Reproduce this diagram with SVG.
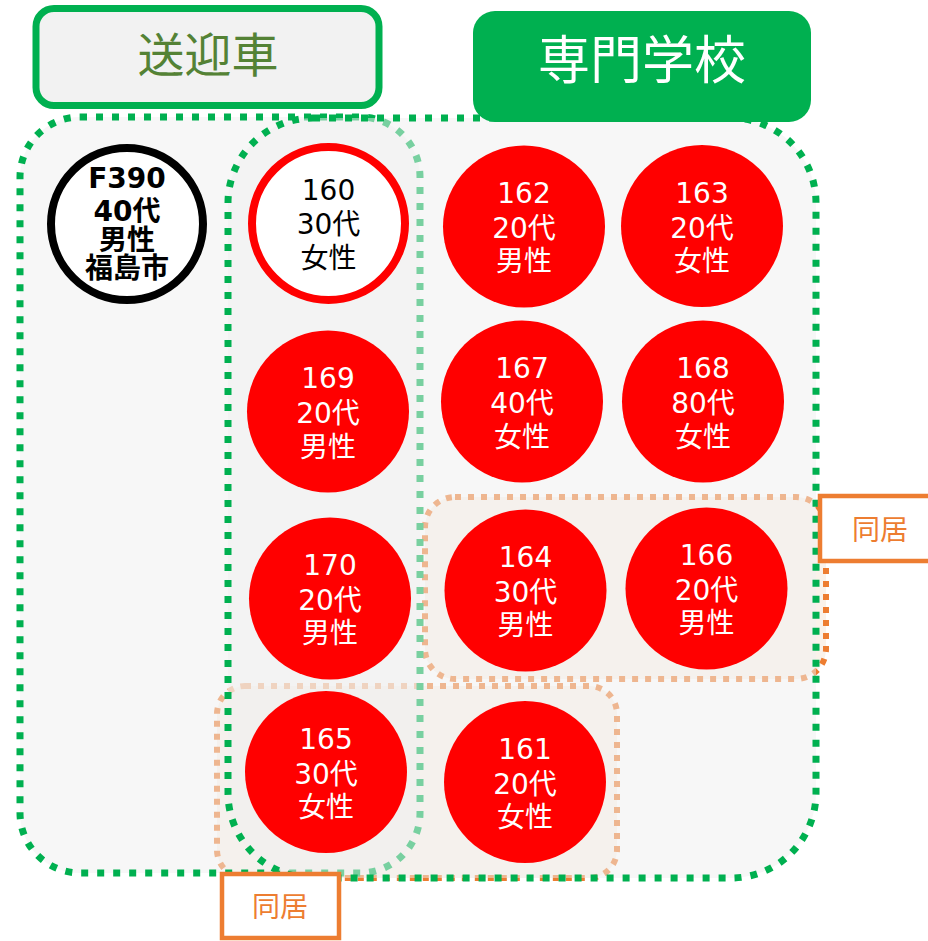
<svg xmlns="http://www.w3.org/2000/svg" width="928" height="941" viewBox="0 0 928 941">
<style>
.cont{fill:rgb(240,240,240);fill-opacity:0.5;stroke:#00B050;stroke-width:7;stroke-dasharray:7 9}
.coh{fill:#FAF2EA;stroke:#ED7D31;stroke-width:6;stroke-dasharray:6 7}
.lbl{fill:#FFFFFF;stroke:#ED7D31;stroke-width:4.5}
.lblt{font-family:"Noto Sans CJK JP","Noto Sans",sans-serif;font-size:28px;fill:#ED7D31;text-anchor:middle}
.red{fill:#FF0000}
.t{font-family:"DejaVu Sans","Noto Sans CJK JP",sans-serif;font-size:28px;text-anchor:middle;fill:#FFFFFF}
.k{fill:#000000}
</style>
<rect x="0" y="0" width="928" height="941" fill="#FFFFFF"/>

<g id="cohabit-right-area"><rect class="coh" x="425" y="497" width="401" height="182" rx="30"/></g>
<g id="cohabit-bottom-area"><rect class="coh" x="217" y="686" width="400" height="192" rx="28"/></g>

<g id="pickup-area"><rect class="cont" x="20" y="117" width="400" height="756" rx="60"/></g>
<g id="school-area"><rect class="cont" x="228" y="118" width="588" height="760" rx="85"/></g>

<g id="title-pickup">
<rect x="36" y="8.5" width="343" height="97" rx="18" fill="#F2F2F2" stroke="#00B050" stroke-width="7"/>
<text x="208" y="72" font-family="'Noto Sans CJK JP','Noto Sans',sans-serif" font-size="47" fill="#548235" text-anchor="middle">送迎車</text>
</g>
<g id="title-school">
<rect x="473" y="11" width="338" height="111" rx="22" fill="#00B050"/>
<text x="642" y="79" font-family="'Noto Sans CJK JP','Noto Sans',sans-serif" font-size="52" fill="#FFFFFF" text-anchor="middle">専門学校</text>
</g>

<g id="nF390">
<circle cx="127" cy="224" r="76" fill="#FFFFFF" stroke="#000000" stroke-width="8"/>
<text class="t k" x="127" y="188" font-size="25" font-weight="700">F390</text>
<text class="t k" x="127" y="221" font-size="25" font-weight="700">40代</text>
<text class="t k" x="127" y="250" font-size="24" font-weight="700">男性</text>
<text class="t k" x="127" y="278" font-size="21" font-weight="700">福島市</text>
</g>
<g id="n160">
<circle cx="328.5" cy="223.5" r="76.5" fill="#FFFFFF" stroke="#FF0000" stroke-width="8"/>
<text class="t k" x="328.5" y="200">160</text>
<text class="t k" x="328.5" y="234">30代</text>
<text class="t k" x="328.5" y="268">女性</text>
</g>
<g id="n162">
<circle class="red" cx="524" cy="226.5" r="81"/>
<text class="t" x="524" y="203">162</text>
<text class="t" x="524" y="238">20代</text>
<text class="t" x="524" y="271">男性</text>
</g>
<g id="n163">
<circle class="red" cx="702" cy="226" r="81"/>
<text class="t" x="702" y="203">163</text>
<text class="t" x="702" y="238">20代</text>
<text class="t" x="702" y="271">女性</text>
</g>
<g id="n169">
<circle class="red" cx="328" cy="411.5" r="81"/>
<text class="t" x="328" y="388">169</text>
<text class="t" x="328" y="423">20代</text>
<text class="t" x="328" y="457">男性</text>
</g>
<g id="n167">
<circle class="red" cx="522" cy="401.5" r="81"/>
<text class="t" x="522" y="378">167</text>
<text class="t" x="522" y="413">40代</text>
<text class="t" x="522" y="447">女性</text>
</g>
<g id="n168">
<circle class="red" cx="703" cy="401.5" r="81"/>
<text class="t" x="703" y="378">168</text>
<text class="t" x="703" y="413">80代</text>
<text class="t" x="703" y="447">女性</text>
</g>
<g id="n170">
<circle class="red" cx="330" cy="598.5" r="81"/>
<text class="t" x="330" y="575">170</text>
<text class="t" x="330" y="610">20代</text>
<text class="t" x="330" y="643">男性</text>
</g>
<g id="n164">
<circle class="red" cx="525.5" cy="590.5" r="81"/>
<text class="t" x="525.5" y="567">164</text>
<text class="t" x="525.5" y="602">30代</text>
<text class="t" x="525.5" y="635">男性</text>
</g>
<g id="n166">
<circle class="red" cx="706.5" cy="588.5" r="81"/>
<text class="t" x="706.5" y="565">166</text>
<text class="t" x="706.5" y="600">20代</text>
<text class="t" x="706.5" y="633">男性</text>
</g>
<g id="n165">
<circle class="red" cx="326" cy="772" r="81"/>
<text class="t" x="326" y="748.5">165</text>
<text class="t" x="326" y="783.5">30代</text>
<text class="t" x="326" y="817">女性</text>
</g>
<g id="n161">
<circle class="red" cx="525" cy="782" r="81"/>
<text class="t" x="525" y="758.5">161</text>
<text class="t" x="525" y="793.5">20代</text>
<text class="t" x="525" y="827">女性</text>
</g>

<g id="label-cohabit-right">
<rect class="lbl" x="820" y="496" width="120" height="65"/>
<text class="lblt" x="880" y="540">同居</text>
</g>
<g id="label-cohabit-bottom">
<rect class="lbl" x="222" y="874" width="117" height="64"/>
<text class="lblt" x="280" y="917">同居</text>
</g>
<g id="connectors"></g>
</svg>
